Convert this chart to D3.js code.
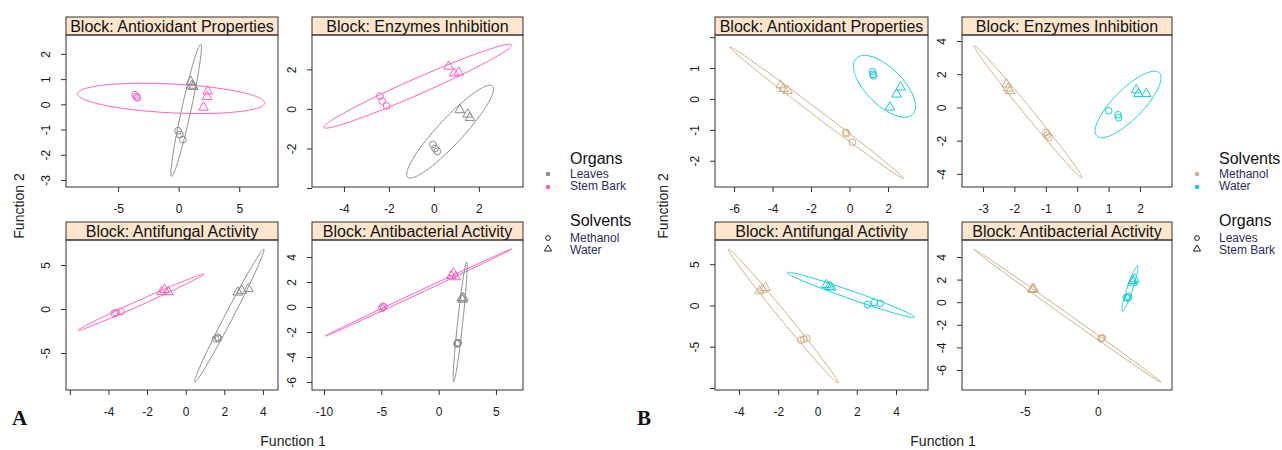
<!DOCTYPE html>
<html lang="en">
<head>
<meta charset="utf-8">
<script src="https://cdnjs.cloudflare.com/ajax/libs/d3/7.8.5/d3.min.js"></script>
<title>Discriminant functions by block</title>
<style>
body { margin: 0; background: #fff; }
svg text { font-family: "Liberation Sans", Arial, sans-serif; }
</style>
</head>
<body>
<svg id="chart" width="1282" height="450"></svg>
<script>
const blocks = ["Antioxidant Properties", "Enzymes Inhibition", "Antifungal Activity", "Antibacterial Activity"];

// ---- figure A : colour = organ, symbol = solvent
const aColorGroups = ["Leaves", "Stem Bark"];
const aShapeGroups = ["Methanol", "Water"];
const aXDomains = [[-9.3, 8.2], [-5.42, 3.96], [-6.2, 4.78], [-11.05, 7.36]];
const aYDomains = [[-3.28, 2.75], [-3.95, 3.74], [-9.2, 7.84], [-6.64, 5.36]];
const aXTicks = [[-5, 0, 5], [-4, -2, 0, 2], [-6, -4, -2, 0, 2, 4], [-10, -5, 0, 5]];
const aYTicks = [[-3, -2, -1, 0, 1, 2], [-4, -2, 0, 2], [-5, 0, 5], [-6, -4, -2, 0, 2, 4]];
const aXNoLabel = [[], [], [-6], []];
const aYNoLabel = [[], [-4], [], []];
// block, organ, solvent, function 1, function 2
const aPoints = [
  [0, "Stem Bark", "Methanol", -3.6, 0.38], [0, "Stem Bark", "Methanol", -3.5, 0.3], [0, "Stem Bark", "Methanol", -3.4, 0.26],
  [0, "Stem Bark", "Water", 2.4, 0.52], [0, "Stem Bark", "Water", 2.35, 0.3], [0, "Stem Bark", "Water", 2.05, -0.12],
  [0, "Leaves", "Methanol", -0.05, -1.05], [0, "Leaves", "Methanol", 0.1, -1.2], [0, "Leaves", "Methanol", 0.35, -1.4],
  [0, "Leaves", "Water", 1.0, 0.9], [0, "Leaves", "Water", 1.1, 0.75], [0, "Leaves", "Water", 1.2, 0.7],
  [1, "Stem Bark", "Methanol", -2.4, 0.65], [1, "Stem Bark", "Methanol", -2.3, 0.4], [1, "Stem Bark", "Methanol", -2.1, 0.15],
  [1, "Stem Bark", "Water", 0.65, 2.15], [1, "Stem Bark", "Water", 0.9, 1.8], [1, "Stem Bark", "Water", 1.1, 1.85],
  [1, "Leaves", "Methanol", -0.05, -1.8], [1, "Leaves", "Methanol", 0.05, -2.0], [1, "Leaves", "Methanol", 0.15, -2.15],
  [1, "Leaves", "Water", 1.15, -0.05], [1, "Leaves", "Water", 1.5, -0.27], [1, "Leaves", "Water", 1.6, -0.45],
  [2, "Stem Bark", "Methanol", -3.7, -0.5], [2, "Stem Bark", "Methanol", -3.6, -0.4], [2, "Stem Bark", "Methanol", -3.35, -0.3],
  [2, "Stem Bark", "Water", -1.25, 1.95], [2, "Stem Bark", "Water", -1.1, 2.2], [2, "Stem Bark", "Water", -0.9, 1.95],
  [2, "Leaves", "Methanol", 1.55, -3.4], [2, "Leaves", "Methanol", 1.65, -3.2], [2, "Leaves", "Methanol", 1.7, -3.35],
  [2, "Leaves", "Water", 2.7, 1.9], [2, "Leaves", "Water", 2.9, 2.1], [2, "Leaves", "Water", 3.25, 2.3],
  [3, "Stem Bark", "Methanol", -4.95, -0.1], [3, "Stem Bark", "Methanol", -4.85, 0.05], [3, "Stem Bark", "Methanol", -4.8, 0.0],
  [3, "Stem Bark", "Water", 1.1, 2.5], [3, "Stem Bark", "Water", 1.3, 2.7], [3, "Stem Bark", "Water", 1.5, 2.4],
  [3, "Leaves", "Methanol", 1.6, -2.95], [3, "Leaves", "Methanol", 1.66, -2.9], [3, "Leaves", "Methanol", 1.7, -2.85],
  [3, "Leaves", "Water", 2.0, 0.7], [3, "Leaves", "Water", 2.15, 0.75], [3, "Leaves", "Water", 2.1, 0.6]
];
// block, organ, centre f1, centre f2, half range f1, half range f2, correlation
const aEllipses = [
  [0, "Stem Bark", -0.62, 0.235, 7.72, 0.6, -0.3],
  [0, "Leaves", 0.62, -0.24, 1.26, 2.62, 0.95],
  [1, "Stem Bark", -0.72, 1.15, 4.17, 2.12, 0.978],
  [1, "Leaves", 0.72, -1.15, 1.93, 2.35, 0.92],
  [2, "Stem Bark", -2.31, 0.78, 3.25, 3.2, 0.995],
  [2, "Leaves", 2.26, -0.75, 1.8, 7.55, 0.9915],
  [3, "Stem Bark", -1.75, 1.16, 8.12, 3.48, 0.9995],
  [3, "Leaves", 1.88, -1.2, 0.61, 4.8, 0.93]
];

// ---- figure B : colour = solvent, symbol = organ
const bColorGroups = ["Methanol", "Water"];
const bShapeGroups = ["Leaves", "Stem Bark"];
const bXDomains = [[-6.99, 4.08], [-3.67, 3.02], [-5.22, 5.63], [-9.3, 5.07]];
const bYDomains = [[-2.85, 2.07], [-4.79, 4.36], [-10.24, 7.93], [-7.77, 5.5]];
const bXTicks = [[-6, -4, -2, 0, 2], [-3, -2, -1, 0, 1, 2], [-4, -2, 0, 2, 4], [-5, 0]];
const bYTicks = [[-2, -1, 0, 1, 2], [-4, -2, 0, 2, 4], [-10, -5, 0, 5], [-6, -4, -2, 0, 2, 4]];
const bXNoLabel = [[], [], [], []];
const bYNoLabel = [[2], [], [-10], []];
// block, solvent, organ, function 1, function 2
const bPoints = [
  [0, "Methanol", "Stem Bark", -3.58, 0.45], [0, "Methanol", "Stem Bark", -3.43, 0.33], [0, "Methanol", "Stem Bark", -3.22, 0.27],
  [0, "Methanol", "Leaves", -0.2, -1.08], [0, "Methanol", "Leaves", -0.15, -1.12], [0, "Methanol", "Leaves", 0.15, -1.4],
  [0, "Water", "Leaves", 1.2, 0.88], [0, "Water", "Leaves", 1.25, 0.75], [0, "Water", "Leaves", 1.22, 0.8],
  [0, "Water", "Stem Bark", 2.65, 0.38], [0, "Water", "Stem Bark", 2.45, 0.15], [0, "Water", "Stem Bark", 2.1, -0.27],
  [1, "Methanol", "Stem Bark", -2.25, 1.4], [1, "Methanol", "Stem Bark", -2.2, 1.15], [1, "Methanol", "Stem Bark", -2.15, 1.0],
  [1, "Methanol", "Leaves", -1.0, -1.5], [1, "Methanol", "Leaves", -0.95, -1.65], [1, "Methanol", "Leaves", -0.9, -1.8],
  [1, "Water", "Leaves", 1.0, -0.2], [1, "Water", "Leaves", 1.3, -0.45], [1, "Water", "Leaves", 1.32, -0.62],
  [1, "Water", "Stem Bark", 1.88, 1.05], [1, "Water", "Stem Bark", 1.95, 0.82], [1, "Water", "Stem Bark", 2.2, 0.82],
  [2, "Methanol", "Stem Bark", -2.96, 1.75], [2, "Methanol", "Stem Bark", -2.8, 1.95], [2, "Methanol", "Stem Bark", -2.65, 2.15],
  [2, "Methanol", "Leaves", -0.85, -4.2], [2, "Methanol", "Leaves", -0.7, -4.1], [2, "Methanol", "Leaves", -0.55, -3.95],
  [2, "Water", "Stem Bark", 0.45, 2.5], [2, "Water", "Stem Bark", 0.6, 2.3], [2, "Water", "Stem Bark", 0.7, 2.2],
  [2, "Water", "Leaves", 2.55, 0.1], [2, "Water", "Leaves", 2.9, 0.35], [2, "Water", "Leaves", 3.2, 0.25],
  [3, "Methanol", "Stem Bark", -4.5, 1.15], [3, "Methanol", "Stem Bark", -4.45, 1.1], [3, "Methanol", "Stem Bark", -4.4, 1.2],
  [3, "Methanol", "Leaves", 0.22, -3.25], [3, "Methanol", "Leaves", 0.27, -3.2], [3, "Methanol", "Leaves", 0.3, -3.15],
  [3, "Water", "Stem Bark", 2.35, 1.75], [3, "Water", "Stem Bark", 2.5, 2.05], [3, "Water", "Stem Bark", 2.4, 1.9],
  [3, "Water", "Leaves", 1.95, 0.4], [3, "Water", "Leaves", 2.1, 0.5], [3, "Water", "Leaves", 2.05, 0.35]
];
// block, solvent, centre f1, centre f2, half range f1, half range f2, correlation
const bEllipses = [
  [0, "Methanol", -1.72, -0.44, 4.52, 2.13, -0.9978],
  [0, "Water", 1.82, 0.41, 1.61, 1.0, -0.65],
  [1, "Methanol", -1.56, -0.27, 1.72, 3.97, -0.9954],
  [1, "Water", 1.62, 0.18, 1.05, 2.0, 0.8],
  [2, "Methanol", -1.74, -1.28, 2.8, 8.11, -0.9956],
  [2, "Water", 1.71, 1.28, 3.24, 2.74, -0.982],
  [3, "Methanol", -2.09, -1.2, 6.41, 5.89, -0.9993],
  [3, "Water", 2.19, 1.2, 0.55, 2.0, 0.93]
];

const svg = d3.select("#chart");
const ink = "#333";
const rowTop = [17, 222], rowBottom = [187, 390], stripH = 18;

function ellipsePoints(e){
  const cx = e[2], cy = e[3], ax = e[4], ay = e[5], r = e[6];
  const s = Math.sqrt(1 - r * r);
  return d3.range(0, 181).map(function(k){
    const t = k / 180 * 2 * Math.PI;
    return [cx + ax * Math.cos(t), cy + ay * (r * Math.cos(t) + s * Math.sin(t))];
  });
}

function drawFigure(f){
  const color = d3.scaleOrdinal().domain(f.colorGroups).range(f.colors);
  const tri = d3.symbol().type(d3.symbolTriangle).size(40);

  blocks.forEach(function(name, i){
    const row = Math.floor(i / 2), col = i % 2;
    const x0 = f.colLeft[col], x1 = f.colRight[col];
    const top = rowTop[row] + stripH, bottom = rowBottom[row];
    const x = d3.scaleLinear().domain(f.xDomains[i]).range([x0, x1]);
    const y = d3.scaleLinear().domain(f.yDomains[i]).range([bottom, top]);
    const g = svg.append("g");
    const clipId = "clip-" + f.id + i;

    g.append("clipPath").attr("id", clipId).append("rect")
      .attr("x", x0).attr("y", top).attr("width", x1 - x0).attr("height", bottom - top);

    // strip
    g.append("rect").attr("x", x0).attr("y", rowTop[row]).attr("width", x1 - x0).attr("height", stripH)
      .attr("fill", "#FFE5CC").attr("stroke", ink).attr("stroke-width", 1);
    g.append("text").attr("x", (x0 + x1) / 2).attr("y", rowTop[row] + 15)
      .attr("text-anchor", "middle").attr("font-size", "16px").attr("fill", "#111")
      .text("Block: " + name);

    // axes
    const xAxis = d3.axisBottom(x).tickValues(f.xTicks[i]).tickSizeInner(5).tickSizeOuter(0)
      .tickFormat(function(d){ return f.xNoLabel[i].indexOf(d) >= 0 ? "" : String(d); });
    const xg = g.append("g").attr("transform", "translate(0," + bottom + ")").call(xAxis);
    xg.select(".domain").remove();
    xg.selectAll("line").attr("stroke", ink);
    xg.selectAll("text").attr("font-size", "12px").attr("fill", "#1a1a1a").attr("y", 17).attr("dy", "0.71em");

    const yAxis = d3.axisLeft(y).tickValues(f.yTicks[i]).tickSizeInner(5).tickSizeOuter(0)
      .tickFormat(function(d){ return f.yNoLabel[i].indexOf(d) >= 0 ? "" : String(d); });
    const yg = g.append("g").attr("transform", "translate(" + x0 + ",0)").call(yAxis);
    yg.select(".domain").remove();
    yg.selectAll("line").attr("stroke", ink);
    yg.selectAll("text").attr("font-size", "12px").attr("fill", "#1a1a1a")
      .attr("x", 0).attr("y", 0).attr("dy", "0.35em").attr("text-anchor", "middle")
      .attr("transform", "translate(-20,0) rotate(-90)");

    // ellipses and points
    const plot = g.append("g").attr("clip-path", "url(#" + clipId + ")");
    const line = d3.line().x(function(d){ return x(d[0]); }).y(function(d){ return y(d[1]); });
    plot.selectAll(".ell")
      .data(f.ellipses.filter(function(e){ return e[0] === i; }))
      .enter().append("path")
      .attr("d", function(e){ return line(ellipsePoints(e)) + "Z"; })
      .attr("fill", "none").attr("stroke", function(e){ return color(e[1]); }).attr("stroke-width", 1);

    const pts = f.points.filter(function(p){ return p[0] === i; });
    plot.selectAll(".pt")
      .data(pts)
      .enter().append(function(p){
        return document.createElementNS("http://www.w3.org/2000/svg", p[2] === f.triangleGroup ? "path" : "circle");
      })
      .each(function(p){
        const el = d3.select(this);
        if(p[2] === f.triangleGroup){
          el.attr("d", tri).attr("transform", "translate(" + x(p[3]) + "," + y(p[4]) + ")");
        } else {
          el.attr("cx", x(p[3])).attr("cy", y(p[4])).attr("r", 3.4);
        }
        el.attr("fill", "none").attr("stroke", color(p[1])).attr("stroke-width", 1);
      });

    // panel border
    g.append("rect").attr("x", x0).attr("y", top).attr("width", x1 - x0).attr("height", bottom - top)
      .attr("fill", "none").attr("stroke", ink).attr("stroke-width", 1);
  });

  // axis titles and figure letter
  svg.append("text").attr("transform", "translate(" + f.yTitleX + ",206) rotate(-90)")
    .attr("text-anchor", "middle").attr("font-size", "14px").attr("fill", "#222").text("Function 2");
  svg.append("text").attr("x", f.xTitleX).attr("y", 446)
    .attr("text-anchor", "middle").attr("font-size", "14px").attr("fill", "#222").text("Function 1");
  svg.append("text").attr("x", f.letterX).attr("y", 425)
    .style("font-family", "'Liberation Serif', 'Times New Roman', serif").style("font-weight", "bold")
    .style("font-size", "21px").attr("fill", "#111").text(f.id);

  // legend
  const lg = svg.append("g");
  const lx = f.legendX;
  lg.append("text").attr("x", lx + 22).attr("y", 164).attr("font-size", "16px").attr("fill", "#111").text(f.colorTitle);
  f.colorGroups.forEach(function(c, k){
    lg.append("circle").attr("cx", lx).attr("cy", 174 + k * 13).attr("r", 2.3).attr("fill", color(c));
    lg.append("text").attr("x", lx + 22).attr("y", 178 + k * 12).attr("font-size", "12px").attr("fill", "#2E2E5C").text(c);
  });
  lg.append("text").attr("x", lx + 22).attr("y", 226).attr("font-size", "16px").attr("fill", "#111").text(f.shapeTitle);
  f.shapeGroups.forEach(function(s, k){
    if(s === f.triangleGroup){
      lg.append("path").attr("d", d3.symbol().type(d3.symbolTriangle).size(22)())
        .attr("transform", "translate(" + lx + "," + (238 + k * 11) + ")")
        .attr("fill", "none").attr("stroke", "#222").attr("stroke-width", 1);
    } else {
      lg.append("circle").attr("cx", lx).attr("cy", 238 + k * 11).attr("r", 2.4)
        .attr("fill", "none").attr("stroke", "#222").attr("stroke-width", 1);
    }
    lg.append("text").attr("x", lx + 22).attr("y", 242 + k * 12).attr("font-size", "12px").attr("fill", "#2E2E5C").text(s);
  });
}

drawFigure({
  id: "A", colorGroups: aColorGroups, shapeGroups: aShapeGroups, colors: ["#8C8C8C", "#FF5EC0"],
  colorTitle: "Organs", shapeTitle: "Solvents", triangleGroup: "Water",
  xDomains: aXDomains, yDomains: aYDomains, xTicks: aXTicks, yTicks: aYTicks,
  xNoLabel: aXNoLabel, yNoLabel: aYNoLabel, points: aPoints, ellipses: aEllipses,
  colLeft: [66, 312], colRight: [278, 523], yTitleX: 24, xTitleX: 293, letterX: 12, legendX: 548
});

drawFigure({
  id: "B", colorGroups: bColorGroups, shapeGroups: bShapeGroups, colors: ["#D3AD84", "#14CDD4"],
  colorTitle: "Solvents", shapeTitle: "Organs", triangleGroup: "Stem Bark",
  xDomains: bXDomains, yDomains: bYDomains, xTicks: bXTicks, yTicks: bYTicks,
  xNoLabel: bXNoLabel, yNoLabel: bYNoLabel, points: bPoints, ellipses: bEllipses,
  colLeft: [715, 962], colRight: [928, 1172], yTitleX: 668, xTitleX: 943, letterX: 637, legendX: 1197
});
</script>
</body>
</html>
